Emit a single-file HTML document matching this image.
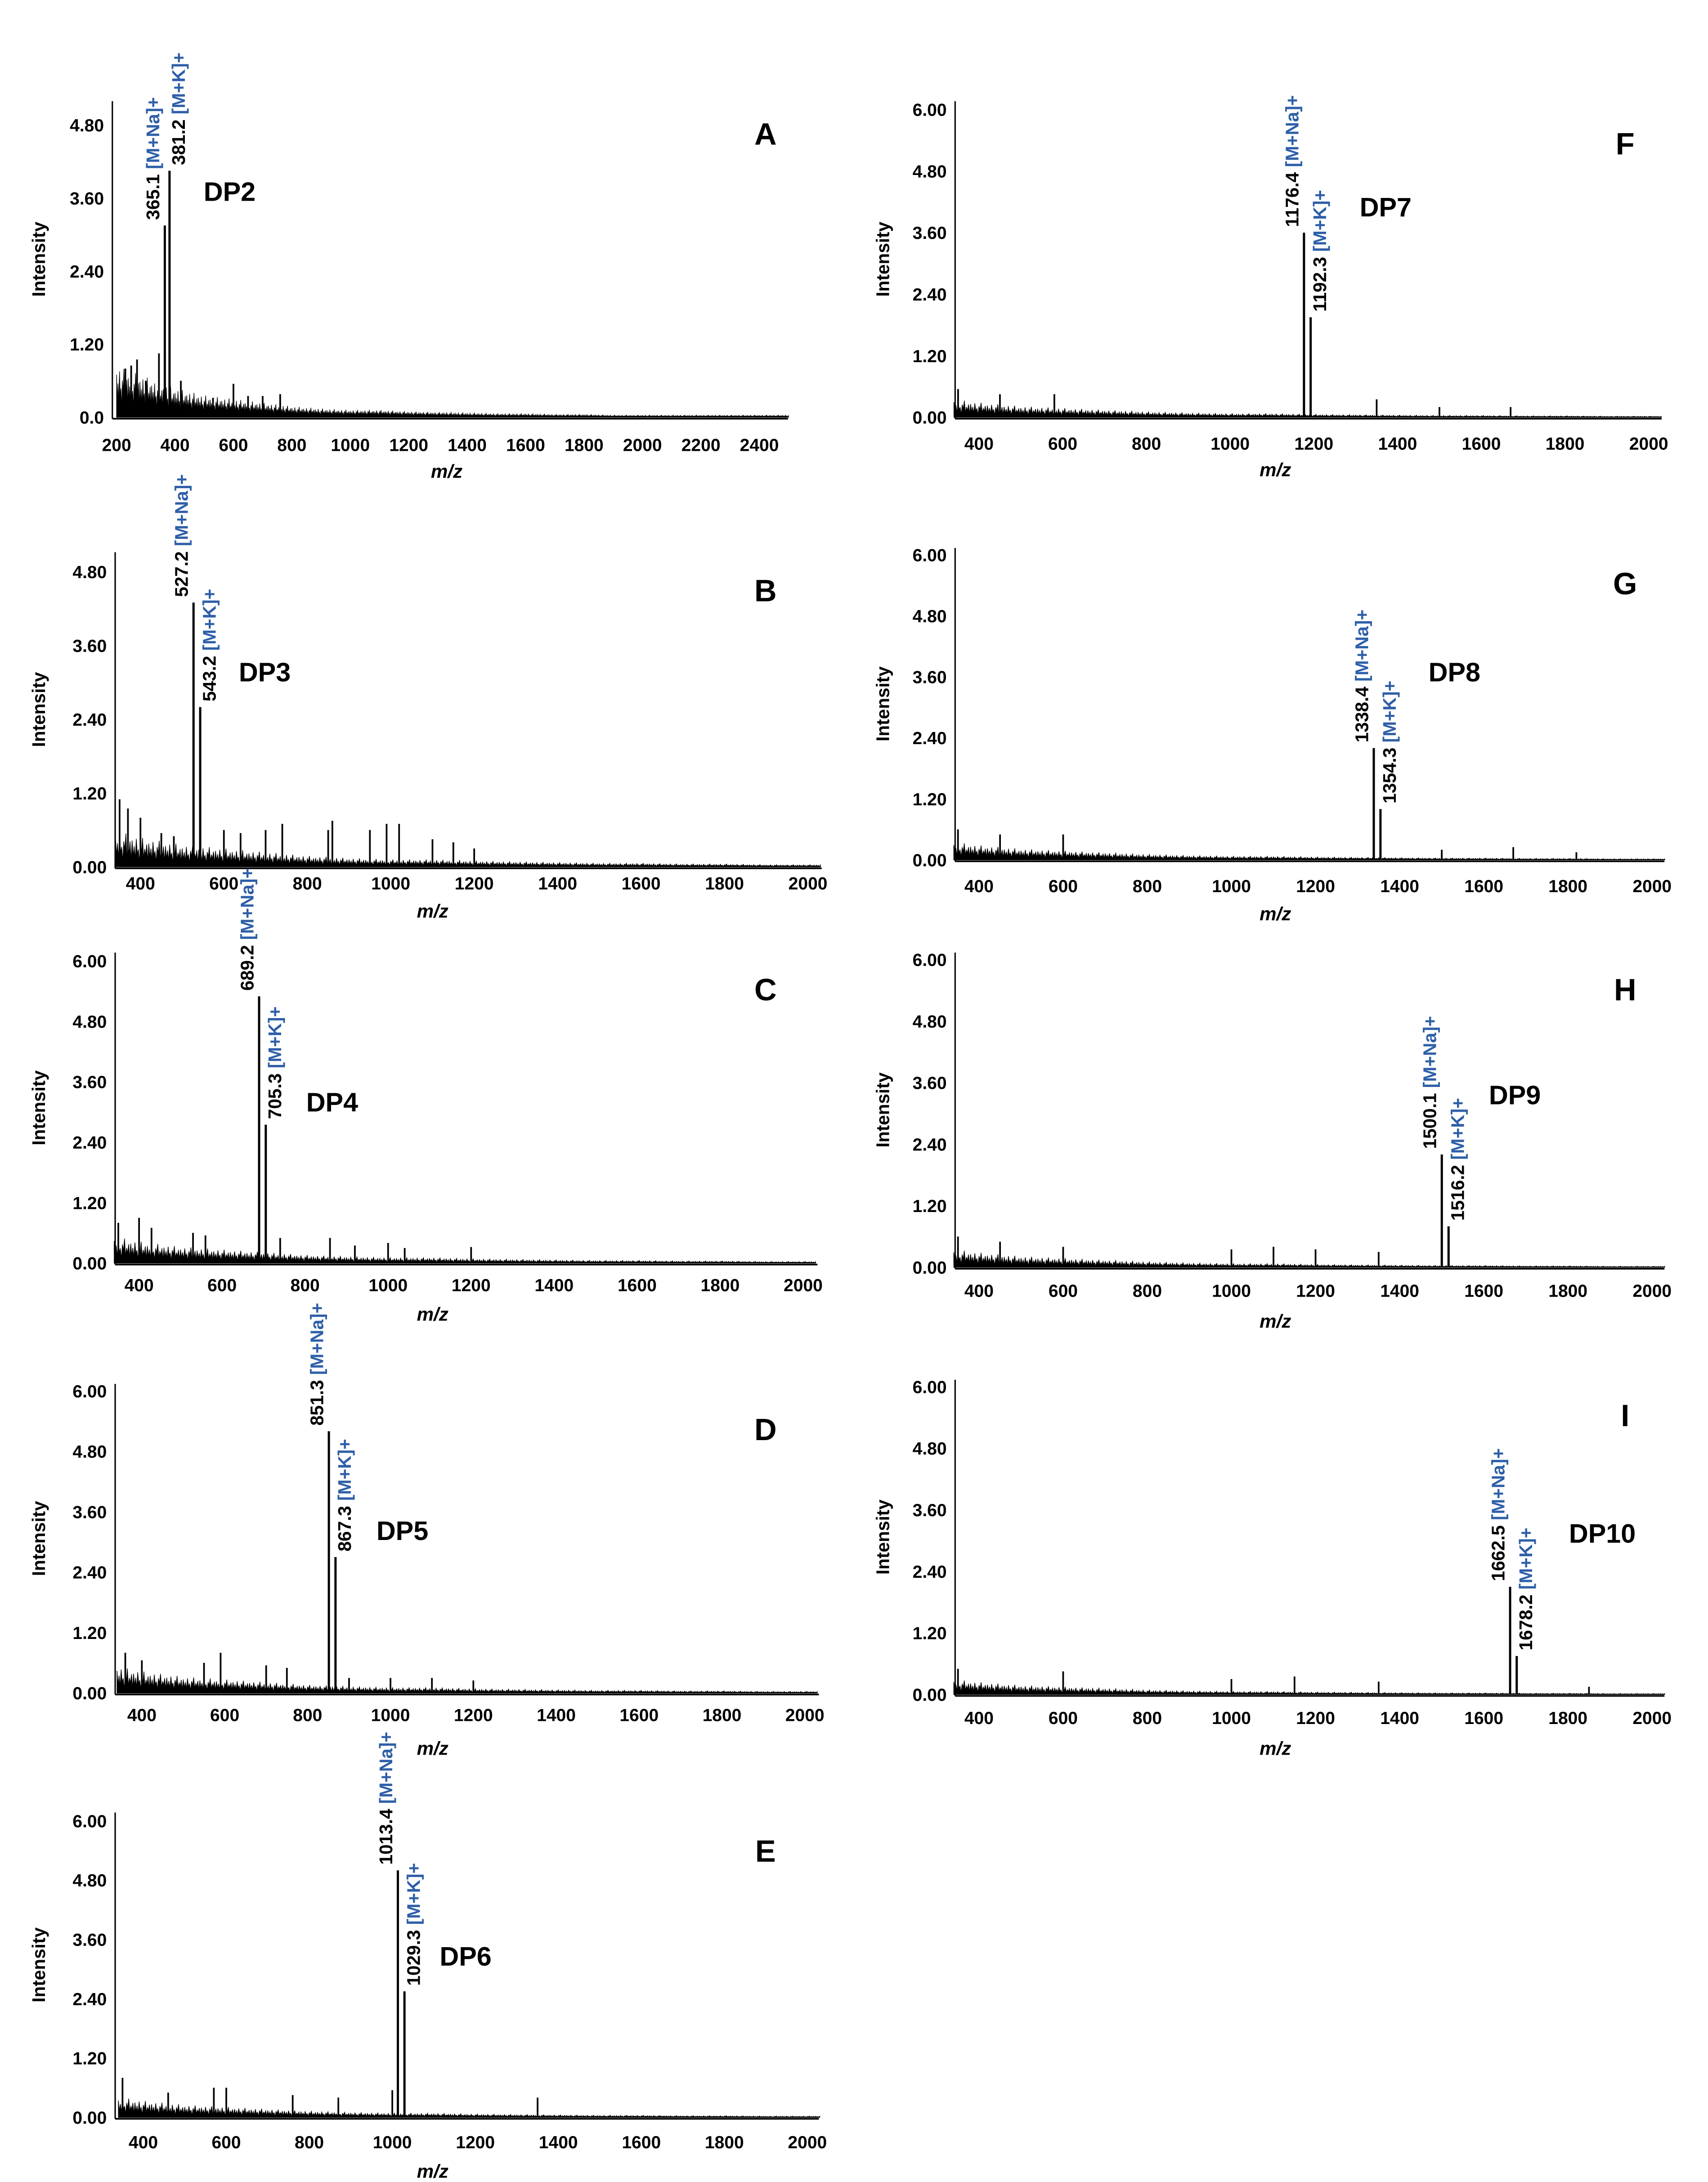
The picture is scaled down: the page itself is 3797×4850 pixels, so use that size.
<!DOCTYPE html>
<html><head><meta charset="utf-8"><style>
html,body{margin:0;padding:0;background:#fff}
svg{display:block}
text{font-family:"Liberation Sans",sans-serif}
</style></head><body>
<svg id="fig" xmlns="http://www.w3.org/2000/svg" width="3797" height="4850" viewBox="0 0 1216 1553" preserveAspectRatio="none"></svg>
<script>
// ---- data ----
const panelIds = ["A","B","C","D","E","F","G","H","I"];
const dpLabels = ["DP2","DP3","DP4","DP5","DP6","DP7","DP8","DP9","DP10"];
const naPeakMz = [365.1,527.2,689.2,851.3,1013.4,1176.4,1338.4,1500.1,1662.5];
const naPeakInt = [3.15,4.3,5.3,5.2,5.0,3.6,2.2,2.2,2.1];
const kPeakMz = [381.2,543.2,705.3,867.3,1029.3,1192.3,1354.3,1516.2,1678.2];
const kPeakInt = [4.05,2.6,2.75,2.7,2.55,1.95,1.0,0.8,0.75];
const naLabel = "[M+Na]+";
const kLabel = "[M+K]+";
const minorA = [[230,0.8],[250,0.85],[270,0.95],[300,0.6],[345,1.05],[420,0.6],[530,0.32],[600,0.55],[650,0.35],[700,0.35],[760,0.38]];
const minorB = [[350,1.1],[370,0.95],[400,0.8],[450,0.55],[480,0.5],[600,0.6],[640,0.55],[700,0.6],[740,0.7],[850,0.6],[860,0.75],[950,0.6],[990,0.7],[1020,0.7],[1100,0.45],[1150,0.4],[1200,0.3]];
const minorC = [[350,0.8],[400,0.9],[430,0.7],[530,0.6],[560,0.55],[740,0.5],[860,0.5],[920,0.35],[1000,0.4],[1040,0.3],[1200,0.32]];
const minorD = [[360,0.8],[400,0.65],[550,0.6],[590,0.8],[700,0.55],[750,0.5],[900,0.3],[1000,0.3],[1100,0.3],[1200,0.25]];
const minorE = [[350,0.8],[460,0.5],[570,0.6],[600,0.6],[760,0.45],[870,0.4],[1000,0.55],[1350,0.4]];
const minorF = [[350,0.55],[450,0.45],[580,0.45],[1350,0.35],[1500,0.2],[1670,0.2]];
const minorG = [[350,0.6],[450,0.5],[600,0.5],[1500,0.2],[1670,0.25],[1820,0.15]];
const minorH = [[350,0.6],[450,0.5],[600,0.4],[1000,0.35],[1100,0.4],[1200,0.35],[1350,0.3]];
const minorI = [[350,0.5],[600,0.45],[1000,0.3],[1150,0.35],[1350,0.25],[1850,0.15]];
const minorPeaks = [minorA,minorB,minorC,minorD,minorE,minorF,minorG,minorH,minorI];
const envMz = [200,300,400,500,600,700,800,900,1000,1100,1200,1300,1400,1500,1600,1700,1800,1900,2000,2100,2200,2300,2400,2500];
const envInt = [0.7,0.55,0.4,0.3,0.25,0.2,0.15,0.12,0.1,0.1,0.08,0.07,0.06,0.05,0.05,0.04,0.04,0.03,0.03,0.03,0.03,0.03,0.03,0.03];
const envScale = [1,1,0.9,0.9,0.7,0.6,0.6,0.6,0.5];
const jag = [1,0.4,0.8,0.3,1.1,0.5,0.7,0.2,0.9,0.6,1.2,0.35,0.75,0.5,0.95,0.25];
const ticksA = ["0.0","1.20","2.40","3.60","4.80"];
const ticksY48 = ["0.00","1.20","2.40","3.60","4.80"];
const ticksY6 = ["0.00","1.20","2.40","3.60","4.80","6.00"];
const xTicksA = [200,400,600,800,1000,1200,1400,1600,1800,2000,2200,2400];
const xTicksB = [400,600,800,1000,1200,1400,1600,1800,2000];

// ---- layout (pixel geometry, thumbnail coords) ----
const L = [
 {axL:80,axR:561,mz0:200,x0:83,pxPer200:41.6,mzMin:200,mzMax:2500,y0:297,yRefVal:4.8,yRef:89,top:72,yT:ticksA,xT:xTicksA,letter:[545,95],dp:[145,143],intX:27,mzX:318,xlY:321,mzY:340},
 {axL:82,axR:585,mz0:400,x0:100,pxPer200:59.4,mzMin:340,mzMax:2030,y0:617,yRefVal:4.8,yRef:407,top:393,yT:ticksY48,xT:xTicksB,letter:[545,420],dp:[170,485],intX:27,mzX:308,xlY:633,mzY:653},
 {axL:82,axR:582,mz0:400,x0:99,pxPer200:59.1,mzMin:340,mzMax:2030,y0:899,yRefVal:6,yRef:684,top:678,yT:ticksY6,xT:xTicksB,letter:[545,704],dp:[218,791],intX:27,mzX:308,xlY:919,mzY:940},
 {axL:82,axR:583,mz0:400,x0:101,pxPer200:59,mzMin:340,mzMax:2030,y0:1205,yRefVal:6,yRef:990,top:985,yT:ticksY6,xT:xTicksB,letter:[545,1017],dp:[268,1096],intX:27,mzX:308,xlY:1225,mzY:1249},
 {axL:82,axR:583,mz0:400,x0:102,pxPer200:59.1,mzMin:340,mzMax:2030,y0:1507,yRefVal:6,yRef:1296,top:1290,yT:ticksY6,xT:xTicksB,letter:[545,1317],dp:[313,1399],intX:27,mzX:308,xlY:1529,mzY:1550},
 {axL:680,axR:1183,mz0:400,x0:697,pxPer200:59.6,mzMin:340,mzMax:2030,y0:297,yRefVal:6,yRef:78,top:72,yT:ticksY6,xT:xTicksB,letter:[1157,102],dp:[968,154],intX:628,mzX:908,xlY:320,mzY:339},
 {axL:680,axR:1185,mz0:400,x0:697,pxPer200:59.9,mzMin:340,mzMax:2030,y0:612,yRefVal:6,yRef:395,top:390,yT:ticksY6,xT:xTicksB,letter:[1157,415],dp:[1017,485],intX:628,mzX:908,xlY:635,mzY:655},
 {axL:680,axR:1185,mz0:400,x0:697,pxPer200:59.9,mzMin:340,mzMax:2030,y0:902,yRefVal:6,yRef:683,top:678,yT:ticksY6,xT:xTicksB,letter:[1157,704],dp:[1060,786],intX:628,mzX:908,xlY:923,mzY:945},
 {axL:680,axR:1185,mz0:400,x0:697,pxPer200:59.9,mzMin:340,mzMax:2030,y0:1206,yRefVal:6,yRef:987,top:982,yT:ticksY6,xT:xTicksB,letter:[1157,1007],dp:[1117,1098],intX:628,mzX:908,xlY:1227,mzY:1249}
];

const NS="http://www.w3.org/2000/svg";
const svg=document.getElementById('fig');
function mk(tag,attrs,parent){const e=document.createElementNS(NS,tag);for(const k in attrs)e.setAttribute(k,attrs[k]);(parent||svg).appendChild(e);return e;}
function envAt(mz){if(mz<=envMz[0])return envInt[0];for(let i=1;i<envMz.length;i++){if(mz<=envMz[i]){const t=(mz-envMz[i-1])/(envMz[i]-envMz[i-1]);return envInt[i-1]+t*(envInt[i]-envInt[i-1]);}}return envInt[envInt.length-1];}

panelIds.forEach((id,p)=>{
  const c=L[p];
  const xs=mz=>c.x0+(mz-c.mz0)*c.pxPer200/200;
  const ys=v=>c.y0-(v/c.yRefVal)*(c.y0-c.yRef);
  const g=mk('g',{});
  
  
  let d='M'+xs(c.mzMin)+','+c.y0;
  let i=0;
  for(let mz=c.mzMin;mz<=c.mzMax;mz+=2.5,i++){
    const h=envAt(mz)*envScale[p]*jag[i%jag.length];
    d+=' L'+xs(mz).toFixed(2)+','+ys(h).toFixed(2);
  }
  d+=' L'+xs(c.mzMax)+','+c.y0+' Z';
  const noise=mk('path',{d:d,fill:'#000',stroke:'#000','stroke-width':0.4},g);
  
  
  minorPeaks[p].forEach(pk=>{
    const l=mk('line',{x1:xs(pk[0]),x2:xs(pk[0]),y1:c.y0,y2:ys(pk[1]),stroke:'#000','stroke-width':1.2},g);
    
    
  });
  const nx=xs(naPeakMz[p]), kx=xs(kPeakMz[p]);
  const ny=ys(naPeakInt[p]), ky=ys(kPeakInt[p]);
  const l1=mk('line',{x1:nx,x2:nx,y1:c.y0,y2:ny,stroke:'#000','stroke-width':1.6},g);
  
  
  const l2=mk('line',{x1:kx,x2:kx,y1:c.y0,y2:ky,stroke:'#000','stroke-width':1.6},g);
  
  
  function plabel(x,y,num,ad,name){
    const t=mk('text',{transform:'translate('+x+','+(y-4)+') rotate(-90)','font-size':13,'font-weight':'bold'},g);
    
    
    const s1=mk('tspan',{fill:'#000'},t);s1.textContent=num+' ';
    const s2=mk('tspan',{fill:'#2e5fa8'},t);s2.textContent=ad;
  }
  plabel(nx-4,ny,naPeakMz[p].toFixed(1),naLabel,'peak-label-na');
  plabel(kx+11,ky,kPeakMz[p].toFixed(1),kLabel,'peak-label-k');
  const ya=mk('line',{x1:c.axL,x2:c.axL,y1:c.top,y2:c.y0+1,stroke:'#000','stroke-width':1},g);
  
  
  const xa=mk('line',{x1:c.axL,x2:c.axR,y1:c.y0+1,y2:c.y0+1,stroke:'#000','stroke-width':1.2},g);
  
  
  c.yT.forEach((lab,k)=>{
    const v=k*1.2;
    const t=mk('text',{x:c.axL-6,y:ys(v)+4.5,'text-anchor':'end','font-size':12.5,'font-weight':'bold'},g);
    t.textContent=lab;
    
    
  });
  c.xT.forEach(v=>{
    const t=mk('text',{x:xs(v),y:c.xlY,'text-anchor':'middle','font-size':12.5,'font-weight':'bold'},g);
    t.textContent=v;
    
    
  });
  const mid=(c.top+c.y0)/2;
  const yt=mk('text',{transform:'translate('+(c.intX+5)+','+mid+') rotate(-90)','text-anchor':'middle','font-size':13,'font-weight':'bold'},g);
  yt.textContent='Intensity';
  
  
  const xt=mk('text',{x:c.mzX,y:c.mzY,'text-anchor':'middle','font-size':13.5,'font-weight':'bold','font-style':'italic'},g);
  xt.textContent='m/z';
  
  
  const lt=mk('text',{x:c.letter[0],y:c.letter[1]+8,'text-anchor':'middle','font-size':22,'font-weight':'bold'},g);
  lt.textContent=id;
  
  
  const dt=mk('text',{x:c.dp[0],y:c.dp[1],'font-size':19,'font-weight':'bold'},g);
  dt.textContent=dpLabels[p];
  
  
});
</script>
</body></html>
